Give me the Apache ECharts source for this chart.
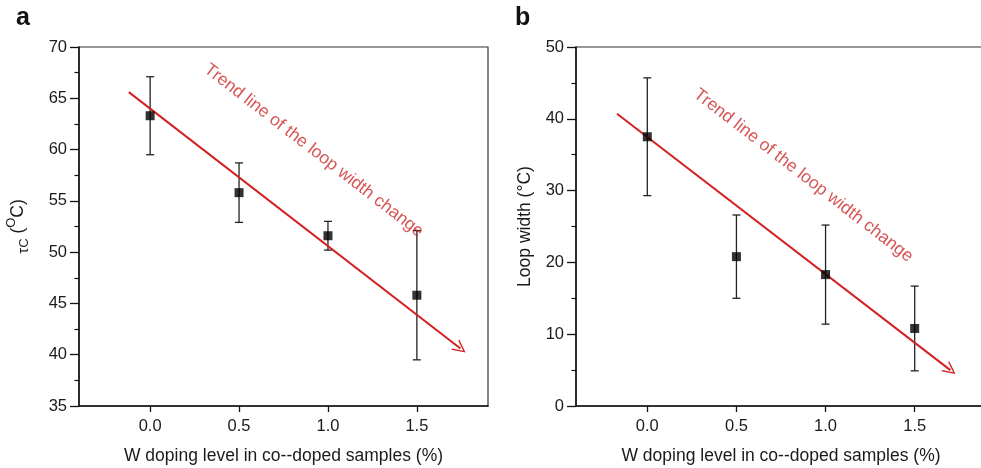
<!DOCTYPE html>
<html>
<head>
<meta charset="utf-8">
<script src="https://cdn.jsdelivr.net/npm/echarts@6/dist/echarts.min.js"></script>
<style>
  html, body { margin: 0; padding: 0; background: #fff; }
  #main { width: 981px; height: 468px; }
</style>
</head>
<body>
<div id="main"></div>
<script>
// W doping level of the co-doped samples (%)
const dopingLevels = [0, 0.5, 1.0, 1.5];
const xTickValues = [0, 0.5, 1.0, 1.5];

// Panel a: transition temperature tau_C (°C) with error half-widths
const tauC = [63.3, 55.8, 51.6, 45.8];
const tauCErr = [3.8, 2.9, 1.4, 6.3];
const tauTrend = [[-0.12, 65.6], [1.745, 40.6]];
const tauTrendLabelAt = [0.92, 59.9];

// Panel b: hysteresis loop width (°C) with error half-widths
const loopWidth = [37.5, 20.8, 18.3, 10.8];
const loopWidthErr = [8.2, 5.8, 6.9, 5.9];
const loopTrend = [[-0.17, 40.7], [1.70, 5.0]];
const loopTrendLabelAt = [0.875, 32.1];

const trendText = 'Trend line of the loop width change';
const xName = 'W doping level in co--doped samples (%)';

const FONT = 'Liberation Sans, Arial, sans-serif';
const RED = '#d42020';
const INK = '#1a1a1a';
// open chevron arrow head, tip pointing up (rotated along the line by ECharts)
const arrowHead = 'path://M0,20 L10,0 L20,20 L17.6,20 L10,4.6 L2.4,20 Z';

function errorBarRenderer(params, api) {
  const x = api.value(0), y = api.value(1), e = api.value(2);
  const top = api.coord([x, y + e]);
  const bot = api.coord([x, y - e]);
  const half = 4;
  const style = { stroke: '#222', lineWidth: 1.3 };
  return {
    type: 'group',
    children: [
      { type: 'line', shape: { x1: top[0], y1: top[1], x2: bot[0], y2: bot[1] }, style },
      { type: 'line', shape: { x1: top[0] - half, y1: top[1], x2: top[0] + half, y2: top[1] }, style },
      { type: 'line', shape: { x1: bot[0] - half, y1: bot[1], x2: bot[0] + half, y2: bot[1] }, style }
    ]
  };
}

function xAxisFor(gridIndex) {
  return {
    type: 'value', gridIndex, min: -0.4, max: 1.9,
    name: xName, nameLocation: 'middle', nameGap: 41,
    nameTextStyle: { fontFamily: FONT, fontSize: 17.5, color: INK },
    axisLine: { show: true, onZero: false, lineStyle: { color: '#111', width: 1.5 } },
    axisTick: { show: true, customValues: xTickValues, length: 6, lineStyle: { color: '#111', width: 1.3 } },
    axisLabel: { customValues: xTickValues, formatter: v => v.toFixed(1), fontFamily: FONT, fontSize: 16.5, color: INK, margin: 12 },
    splitLine: { show: false }
  };
}

function yAxisFor(gridIndex, min, max, interval, name, nameGap, rich) {
  return {
    type: 'value', gridIndex, min, max, interval,
    name, nameLocation: 'middle', nameGap,
    nameTextStyle: { fontFamily: FONT, fontSize: 17.5, color: INK, rich },
    axisLine: { show: true, onZero: false, lineStyle: { color: '#111', width: 1.5 } },
    axisTick: { show: true, length: 9, lineStyle: { color: '#111', width: 1.3 } },
    minorTick: { show: true, splitNumber: 2, length: 4.5, lineStyle: { color: '#111', width: 1.2 } },
    axisLabel: { fontFamily: FONT, fontSize: 16.5, color: INK, margin: 12 },
    splitLine: { show: false },
    minorSplitLine: { show: false }
  };
}

function panelSeries(idx, values, errs, trend, labelAt) {
  return [
    {
      type: 'custom', xAxisIndex: idx, yAxisIndex: idx, z: 3,
      renderItem: errorBarRenderer,
      data: dopingLevels.map((x, i) => [x, values[i], errs[i]]),
      silent: true
    },
    {
      type: 'lines', coordinateSystem: 'cartesian2d', xAxisIndex: idx, yAxisIndex: idx, z: 4,
      data: [{ coords: trend }],
      lineStyle: { color: RED, width: 2, opacity: 1 },
      symbol: ['none', arrowHead], symbolSize: [15, 13],
      silent: true
    },
    {
      type: 'scatter', xAxisIndex: idx, yAxisIndex: idx, z: 5,
      symbol: 'rect', symbolSize: 9,
      itemStyle: { color: '#000' },
      data: dopingLevels.map((x, i) => [x, values[i]]),
      silent: true
    },
    {
      type: 'scatter', xAxisIndex: idx, yAxisIndex: idx, z: 6,
      symbolSize: 0,
      data: [labelAt],
      label: {
        show: true, position: 'inside', formatter: trendText, rotate: -37.7,
        fontFamily: FONT, fontSize: 17.5, color: '#cc2a2a'
      },
      silent: true
    }
  ];
}

const chart = echarts.init(document.getElementById('main'), null, { renderer: 'canvas' });

chart.setOption({
  backgroundColor: '#fff',
  animation: false,
  title: [
    { text: 'a', left: 11, top: 1, textStyle: { fontFamily: FONT, fontSize: 25, fontWeight: 'bold', color: '#111' } },
    { text: 'b', left: 510, top: 1, textStyle: { fontFamily: FONT, fontSize: 25, fontWeight: 'bold', color: '#111' } }
  ],
  grid: [
    { left: 79, top: 47, width: 409, bottom: 62, show: true, borderColor: '#333', borderWidth: 1.2,
      backgroundColor: 'transparent', containLabel: false, outerBoundsMode: 'none' },
    { left: 576, top: 47, width: 410, bottom: 62, show: true, borderColor: '#333', borderWidth: 1.2,
      backgroundColor: 'transparent', containLabel: false, outerBoundsMode: 'none' }
  ],
  xAxis: [xAxisFor(0), xAxisFor(1)],
  yAxis: [
    yAxisFor(0, 35, 70, 5, '{t|τ}{s|C} ({o|O}C)', 48, {
      t: { fontFamily: FONT, fontSize: 15, lineHeight: 26, verticalAlign: 'bottom', color: INK },
      s: { fontFamily: FONT, fontSize: 13, lineHeight: 26, verticalAlign: 'bottom', color: INK },
      o: { fontFamily: FONT, fontSize: 13, lineHeight: 13, verticalAlign: 'top', color: INK }
    }),
    yAxisFor(1, 0, 50, 10, 'Loop width (°C)', 42)
  ],
  series: [
    ...panelSeries(0, tauC, tauCErr, tauTrend, tauTrendLabelAt),
    ...panelSeries(1, loopWidth, loopWidthErr, loopTrend, loopTrendLabelAt)
  ]
});
</script>
</body>
</html>
